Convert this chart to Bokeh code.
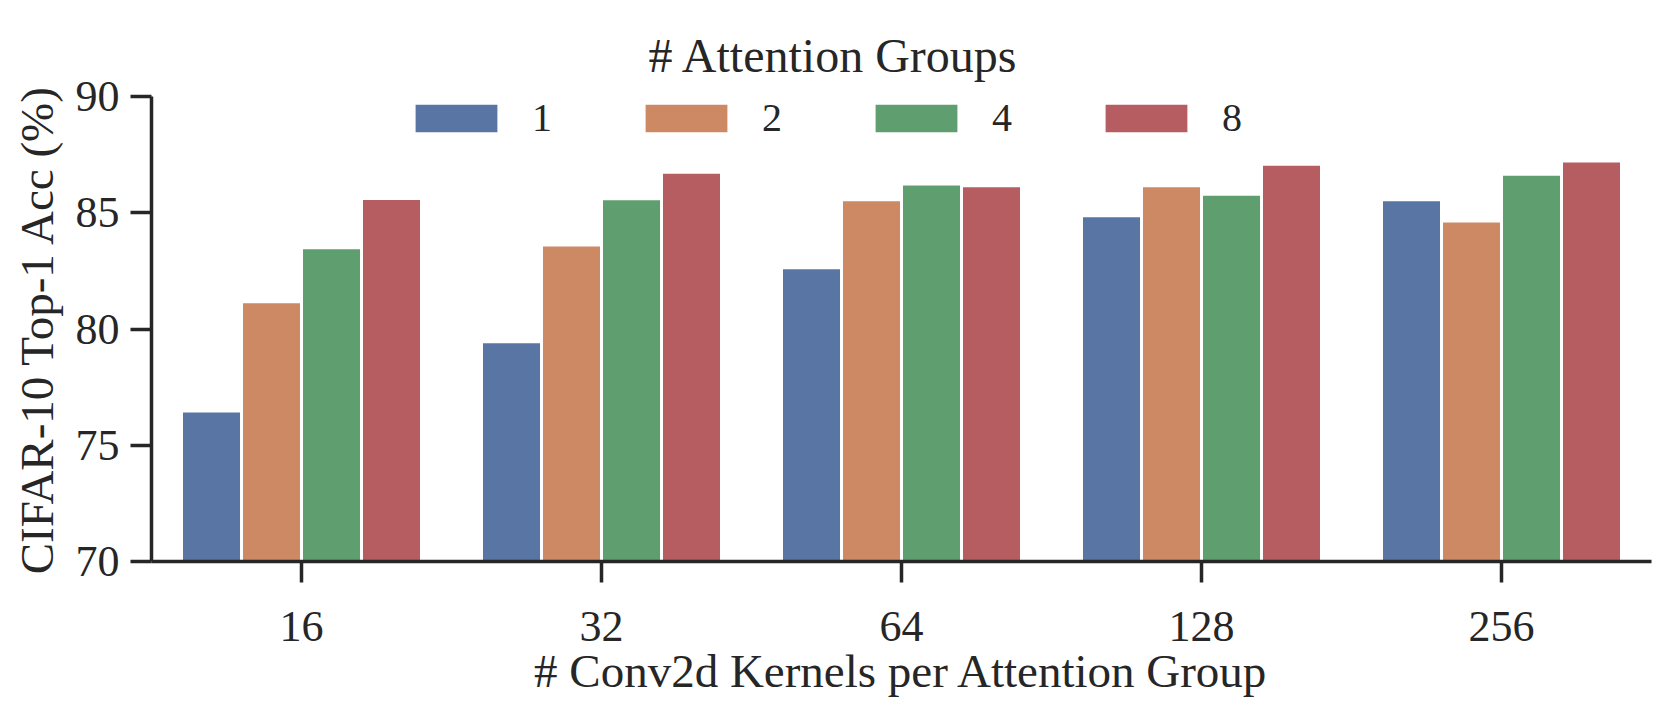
from bokeh.plotting import figure
from bokeh.models import ColumnDataSource, FactorRange, FixedTicker, Legend, LegendItem, Title
from bokeh.transform import dodge
from bokeh.embed import file_html
from bokeh.resources import INLINE

# ---- data ----
kernels = ["16", "32", "64", "128", "256"]
groups = ["1", "2", "4", "8"]
acc_g1 = [76.47, 79.45, 82.63, 84.87, 85.56]
acc_g2 = [81.17, 83.61, 85.56, 86.16, 84.64]
acc_g4 = [83.49, 85.60, 86.24, 85.80, 86.66]
acc_g8 = [85.61, 86.74, 86.16, 87.09, 87.23]
y_ticks = [70, 75, 80, 85, 90]
colors = ["#5975A4", "#CC8963", "#5F9E6E", "#B55D60"]

FONT = "Liberation Serif"
INK = "#262626"

source = ColumnDataSource(data=dict(k=kernels, g1=acc_g1, g2=acc_g2, g4=acc_g4, g8=acc_g8))

p = figure(
    x_range=FactorRange(factors=kernels, range_padding=0),
    y_range=(70, 90),
    frame_width=1500, frame_height=465,
    min_border_left=151, min_border_top=96, min_border_right=2, min_border_bottom=141,
    output_backend="svg", toolbar_location=None,
)
p.outline_line_color = None
p.grid.visible = False
p.background_fill_color = "white"

offsets = [-0.3, -0.1, 0.1, 0.3]
fields = ["g1", "g2", "g4", "g8"]
renderers = []
for f, off, c in zip(fields, offsets, colors):
    r = p.vbar(x=dodge("k", off, range=p.x_range), top=f, bottom=70, width=0.2,
               source=source, fill_color=c, line_color="white", line_width=3)
    renderers.append(r)

for ax in (p.xaxis[0], p.yaxis[0]):
    ax.axis_line_width = 3.5
    ax.axis_line_color = INK
    ax.major_tick_line_width = 3.5
    ax.major_tick_line_color = INK
    ax.major_tick_out = 21
    ax.major_tick_in = 0
    ax.minor_tick_line_color = None
    ax.major_label_text_font = FONT
    ax.major_label_text_font_size = "44px"
    ax.major_label_text_color = INK
    ax.axis_label_text_font = FONT
    ax.axis_label_text_font_size = "47px"
    ax.axis_label_text_font_style = "normal"
    ax.axis_label_text_color = INK

p.yaxis.ticker = FixedTicker(ticks=y_ticks)
p.yaxis.major_label_standoff = 11
p.yaxis.axis_label_standoff = 10
p.yaxis.axis_label = "CIFAR-10 Top-1 Acc (%)"
p.xaxis.major_label_standoff = 29
p.xaxis.axis_label_standoff = 1
p.xaxis.axis_label = "# Conv2d Kernels per Attention Group"

legend = Legend(
    items=[LegendItem(label=g, renderers=[r]) for g, r in zip(groups, renderers)],
    orientation="horizontal",
    location=(252, 420),
    glyph_width=106, glyph_height=38,
    label_standoff=23, spacing=81,
    padding=6, margin=0,
    border_line_color=None, background_fill_alpha=0,
    label_text_font=FONT, label_text_font_size="40px", label_text_color=INK,
)
p.add_layout(legend, "center")

title = Title(text="# Attention Groups", align="left", offset=497, standoff=29,
              text_font=FONT, text_font_size="48px", text_font_style="normal",
              text_color=INK)
p.add_layout(title, "above")

open("out.html", "w").write(file_html(p, INLINE))
